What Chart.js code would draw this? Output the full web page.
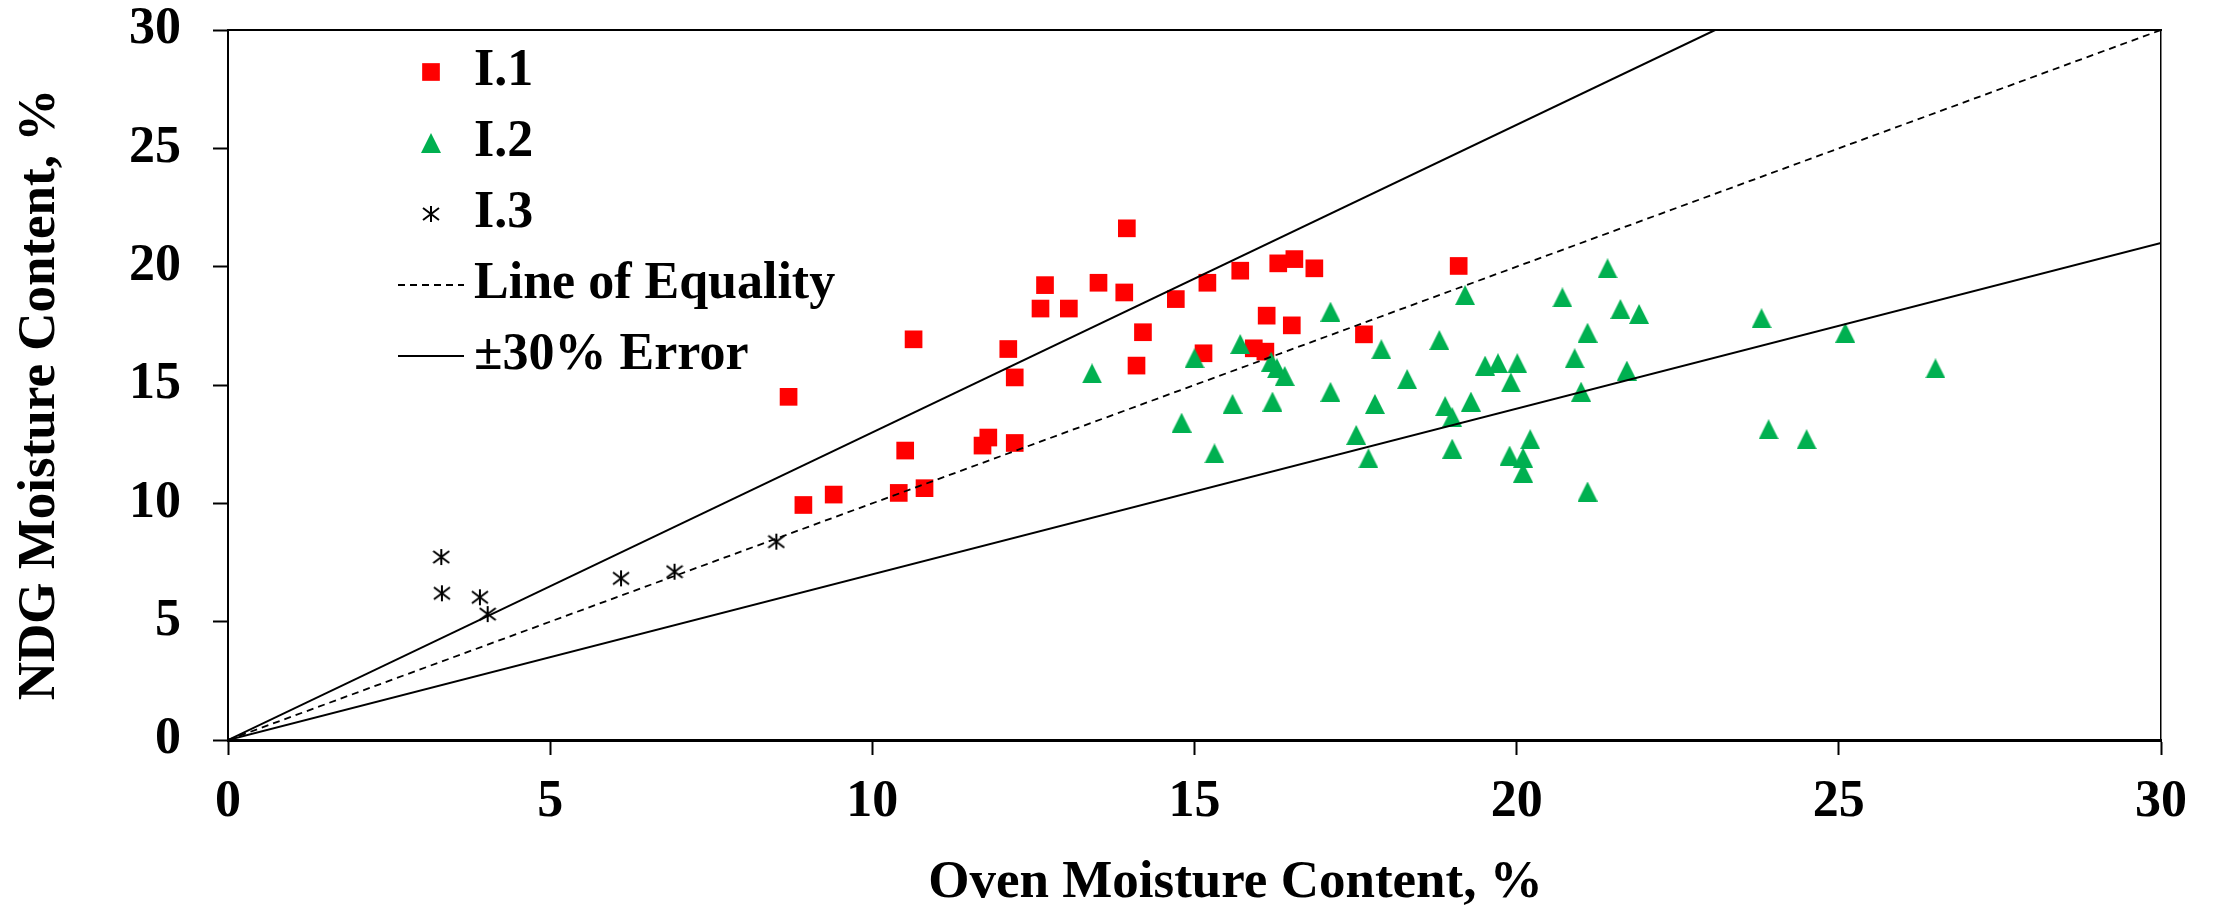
<!DOCTYPE html>
<html>
<head>
<meta charset="utf-8">
<script src="https://cdn.jsdelivr.net/npm/chart.js@4.4.1/dist/chart.umd.min.js"></script>
<style>
html,body{margin:0;padding:0;background:#fff;}
#wrap{width:2216px;height:912px;position:relative;}
canvas{display:block;}
</style>
</head>
<body>
<div id="wrap"><canvas id="c" width="2216" height="912"></canvas></div>
<script>
// ---- Data ----
const seriesLabels = ['I.1', 'I.2', 'I.3', 'Line of Equality', '\u00B130% Error'];

const i1Oven = [8.70, 8.93, 9.40, 10.41, 10.51, 10.64, 10.81, 11.71, 11.80, 12.11, 12.21, 12.21,
  12.61, 12.68, 13.05, 13.51, 13.91, 13.95, 14.10, 14.20, 14.71, 15.14, 15.20, 15.71, 15.92,
  16.10, 16.12, 16.30, 16.51, 16.55, 16.86, 17.63, 19.10];
const i1Ndg = [14.50, 9.93, 10.37, 10.44, 12.23, 16.93, 10.64, 12.44, 12.78, 16.52, 15.32, 12.55,
  18.23, 19.22, 18.23, 19.32, 18.91, 21.62, 15.82, 17.23, 18.63, 16.34, 19.32, 19.83, 16.55,
  16.41, 17.93, 20.14, 17.52, 20.32, 19.93, 17.14, 20.03];

const i2Oven = [13.41, 15.00, 15.71, 16.19, 16.28, 16.40, 17.11, 19.20, 18.80, 17.90, 18.30, 19.51,
  17.11, 17.80, 18.89, 19.29, 19.00, 15.59, 16.21, 14.80, 17.51, 15.31, 17.70, 19.00,
  21.41, 20.71, 21.61, 21.90, 23.80, 21.10, 25.10, 20.90, 19.71, 20.01, 19.91, 21.71,
  26.50, 21.00, 23.91, 24.50, 20.21, 19.89, 20.10, 20.10, 21.10];
const i2Ndg = [15.49, 16.13, 16.73, 15.99, 15.71, 15.38, 18.10, 18.80, 16.90, 16.51, 15.25, 15.82,
  14.71, 14.20, 14.11, 14.30, 13.64, 14.20, 14.30, 13.41, 12.89, 12.11, 11.90, 12.31,
  19.93, 18.70, 18.21, 18.00, 17.82, 17.21, 17.21, 16.13, 15.92, 15.92, 15.11, 15.61,
  15.70, 14.72, 13.13, 12.71, 12.71, 12.02, 11.93, 11.30, 10.50];

const i3Oven = [3.31, 3.32, 3.91, 4.03, 6.10, 6.93, 8.51];
const i3Ndg = [7.73, 6.20, 6.03, 5.32, 6.83, 7.11, 8.38];

const equalityOven = [0, 30];
const equalityNdg = [0, 30];
const upperErrorOven = [0, 23.08];
const upperErrorNdg = [0, 30];
const lowerErrorOven = [0, 30];
const lowerErrorNdg = [0, 21];

const axisTicks = [0, 5, 10, 15, 20, 25, 30];

// ---- helpers ----
function pts(xs, ys) { return xs.map((x, i) => ({x: x, y: ys[i]})); }

function makeTriangle(color) {
  const c = document.createElement('canvas');
  c.width = 20; c.height = 20;
  const g = c.getContext('2d');
  g.fillStyle = color;
  g.beginPath();
  g.moveTo(10, 0); g.lineTo(20, 20); g.lineTo(0, 20); g.closePath();
  g.fill();
  return c;
}
function makeAsterisk(color) {
  const c = document.createElement('canvas');
  c.width = 18; c.height = 18;
  const g = c.getContext('2d');
  g.strokeStyle = color; g.lineWidth = 2;
  g.beginPath();
  g.moveTo(9, 1); g.lineTo(9, 17);
  g.moveTo(1, 3); g.lineTo(17, 15);
  g.moveTo(17, 3); g.lineTo(1, 15);
  g.stroke();
  return c;
}

const FONT = '"Liberation Serif", "Times New Roman", Times, serif';
const triImg = makeTriangle('#00B050');
const astImg = makeAsterisk('#000000');

const tickFont = {family: FONT, size: 52, weight: 'bold'};

// custom legend inside the plot area
const insideLegend = {
  id: 'insideLegend',
  afterDraw(chart) {
    const ctx = chart.ctx;
    const a = chart.chartArea;
    const cx = a.left + 203;
    const textX = a.left + 246;
    let y = a.top + 42;
    const step = 71;
    ctx.save();
    chart.data.datasets.forEach(ds => {
      if (!ds.showInLegend) return;
      if (ds.showLine) {
        ctx.strokeStyle = ds.borderColor;
        ctx.lineWidth = ds.borderWidth;
        ctx.setLineDash(ds.borderDash || []);
        ctx.beginPath();
        ctx.moveTo(cx - 33, y);
        ctx.lineTo(cx + 33, y);
        ctx.stroke();
        ctx.setLineDash([]);
      } else {
        const st = ds.pointStyle;
        if (st instanceof HTMLCanvasElement) {
          ctx.drawImage(st, cx - st.width / 2, y - st.height / 2);
        } else {
          const s = ds.pointRadius * Math.SQRT1_2;
          ctx.fillStyle = ds.backgroundColor;
          ctx.fillRect(cx - s, y - s, 2 * s, 2 * s);
        }
      }
      ctx.fillStyle = '#000';
      ctx.font = 'bold 52px ' + FONT;
      ctx.textAlign = 'left';
      ctx.textBaseline = 'middle';
      ctx.fillText(ds.label, textX, y);
      y += step;
    });
    ctx.restore();
  }
};

// shift the axis titles to where the original figure placed them
const titleShift = {
  id: 'titleShift',
  beforeDraw(chart) {
    const shifts = {x: [41, 0], y: [0, 9.5]};
    Object.keys(shifts).forEach(id => {
      const s = chart.scales[id];
      if (!s || s._shiftWrapped) return;
      const orig = s.drawTitle;
      const [dx, dy] = shifts[id];
      s.drawTitle = function () {
        const ctx = this.ctx;
        ctx.save();
        ctx.translate(dx, dy);
        orig.apply(this, arguments);
        ctx.restore();
      };
      s._shiftWrapped = true;
    });
  }
};

const chart = new Chart(document.getElementById('c'), {
  type: 'scatter',
  data: {
    datasets: [
      {label: seriesLabels[0], data: pts(i1Oven, i1Ndg), pointStyle: 'rect', pointRadius: 12.5,
       backgroundColor: '#FF0000', borderWidth: 0, order: 5, showInLegend: true},
      {label: seriesLabels[1], data: pts(i2Oven, i2Ndg), pointStyle: triImg, pointRadius: 10,
       backgroundColor: '#00B050', borderWidth: 0, order: 4, showInLegend: true},
      {label: seriesLabels[2], data: pts(i3Oven, i3Ndg), pointStyle: astImg, pointRadius: 9,
       backgroundColor: '#000', borderColor: '#000', borderWidth: 0, order: 3, showInLegend: true},
      {label: seriesLabels[3], data: pts(equalityOven, equalityNdg), showLine: true, pointRadius: 0,
       borderColor: '#000', borderWidth: 1.8, borderDash: [7, 5], order: 2, showInLegend: true},
      {label: seriesLabels[4], data: pts(upperErrorOven, upperErrorNdg), showLine: true, pointRadius: 0,
       borderColor: '#000', borderWidth: 2, order: 1, showInLegend: true},
      {label: seriesLabels[4], data: pts(lowerErrorOven, lowerErrorNdg), showLine: true, pointRadius: 0,
       borderColor: '#000', borderWidth: 2, order: 1, showInLegend: false}
    ]
  },
  options: {
    responsive: false,
    animation: false,
    devicePixelRatio: 1,
    layout: {padding: {left: 0, top: 30, right: 55, bottom: 0}},
    plugins: {legend: {display: false}, tooltip: {enabled: false}},
    scales: {
      x: {
        type: 'linear', position: 'bottom', min: 0, max: 30,
        afterBuildTicks: (s) => { s.ticks = axisTicks.map(v => ({value: v})); },
        ticks: {font: tickFont, color: '#000', padding: 16, maxRotation: 0, autoSkip: false},
        grid: {display: true, drawOnChartArea: false, drawTicks: true, tickLength: 15, tickWidth: 2, tickColor: '#000'},
        border: {display: true, color: '#000', width: 3},
        title: {display: true, text: 'Oven Moisture Content, %', color: '#000',
                font: {family: FONT, size: 53, weight: 'bold', lineHeight: 1}, padding: {top: 0, bottom: 2}},
        afterFit: (s) => { s.height = 172; }
      },
      y: {
        type: 'linear', position: 'left', min: 0, max: 30,
        afterBuildTicks: (s) => { s.ticks = axisTicks.map(v => ({value: v})); },
        ticks: {font: tickFont, color: '#000', padding: 32, autoSkip: false},
        grid: {display: true, drawOnChartArea: false, drawTicks: true, tickLength: 15, tickWidth: 2, tickColor: '#000'},
        border: {display: true, color: '#000', width: 2},
        title: {display: true, text: 'NDG Moisture Content, %', color: '#000',
                font: {family: FONT, size: 53, weight: 'bold', lineHeight: 1}, padding: {top: 14, bottom: 0}},
        afterFit: (s) => { s.width = 228; s.paddingTop = 0; s.paddingBottom = 0; }
      },
      xTop: {
        type: 'linear', position: 'top', min: 0, max: 30,
        ticks: {display: false}, grid: {display: false},
        border: {display: true, color: '#000', width: 2},
        afterFit: (s) => { s.height = 0; }
      },
      yRight: {
        type: 'linear', position: 'right', min: 0, max: 30,
        ticks: {display: false}, grid: {display: false},
        border: {display: true, color: '#000', width: 1.5},
        afterFit: (s) => { s.width = 0; }
      }
    }
  },
  plugins: [insideLegend, titleShift]
});
</script>
</body>
</html>
